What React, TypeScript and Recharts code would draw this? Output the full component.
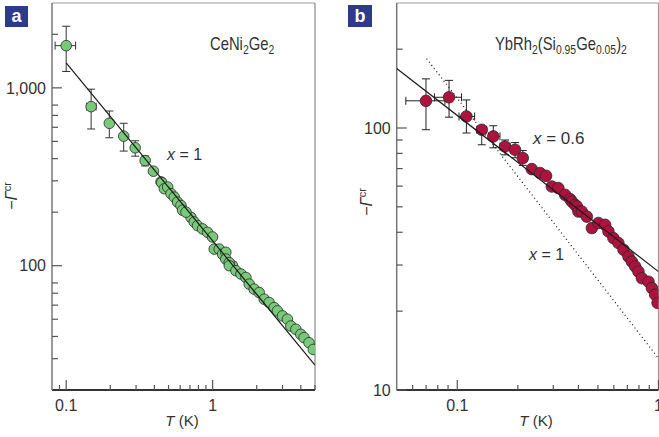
import React from 'react';
import { ScatterChart, Scatter, XAxis, YAxis, ErrorBar, ReferenceLine } from 'recharts';

// ---------- Panel a : CeNi2Ge2 ----------
const aErrT = [0.1, 0.148, 0.197, 0.247, 0.296, 0.346, 0.711, 1.367];
const aErrG = [1727, 784, 632, 535, 460, 390, 187, 100];
const aErrGLow = [1236, 587, 524, 441, 413, 364, 178, 95];
const aErrGHigh = [2220, 983, 741, 632, 504, 414, 196, 105];
const aErrTLow = [0.084, 0.138, 0.197, 0.247, 0.296, 0.336, 0.69, 1.33];
const aErrTHigh = [0.116, 0.16, 0.197, 0.247, 0.296, 0.356, 0.73, 1.40];

const aT = [0.394, 0.444, 0.449, 0.468, 0.493, 0.52, 0.547, 0.576, 0.608, 0.623, 0.658, 0.749, 0.789, 0.853, 0.923, 0.998, 1.025, 1.109, 1.169, 1.23, 1.23, 1.297, 1.3, 1.442, 1.56, 1.687, 1.778, 1.922, 2.08, 2.25, 2.43, 2.63, 2.77, 3.0, 3.24, 3.42, 3.7, 4.0, 4.21, 4.55, 4.87];
const aG = [340, 296, 293, 271, 277, 254, 243, 228, 218, 205, 200, 176, 168, 161, 154, 145, 124, 124, 116, 119, 109, 104, 100, 93.7, 89.8, 85.9, 78.8, 73.8, 70.6, 64.8, 62.1, 58.1, 55.7, 52.2, 50.0, 45.8, 43.9, 41.1, 39.4, 36.9, 33.8];

const aFitT = [0.1, 5];
const aFitG = [1380, 27.6];

const aXTicks = [0.09, 0.1, 0.2, 0.3, 0.4, 0.5, 0.6, 0.7, 0.8, 0.9, 1, 2, 3, 4, 5];
const aYTicks = [30, 40, 50, 60, 70, 80, 100, 200, 300, 400, 500, 600, 700, 800, 1000, 2000];
const aXDomain = [0.08, 5];
const aYDomain = [20, 3000];

// ---------- Panel b : YbRh2(Si0.95Ge0.05)2 ----------
const bErrT = [0.0699, 0.091, 0.111, 0.1323, 0.151, 0.1727, 0.1937, 0.2116];
const bErrG = [127, 131, 110.7, 98.5, 92.9, 85.0, 82.6, 76.8];
const bErrGLow = [98.5, 110, 95.7, 86.3, 84, 79, 77, 72];
const bErrGHigh = [154, 152, 128, 101.4, 102, 90, 88, 82];
const bErrTLow = [0.0555, 0.077, 0.102, 0.125, 0.143, 0.163, 0.185, 0.203];
const bErrTHigh = [0.0868, 0.105, 0.122, 0.14, 0.163, 0.183, 0.203, 0.222];

const bT = [0.2345, 0.2579, 0.2763, 0.295, 0.318, 0.3435, 0.3637, 0.371, 0.385, 0.393, 0.4, 0.416, 0.4403, 0.4664, 0.5029, 0.543, 0.564, 0.597, 0.632, 0.67, 0.709, 0.7375, 0.766, 0.795, 0.827, 0.892, 0.927, 0.963, 0.989];
const bG = [69.7, 67.3, 65.7, 59.8, 59.0, 55.6, 53.5, 52.4, 50.9, 50.2, 48.0, 48.0, 45.9, 41.5, 43.4, 42.7, 40.3, 38.0, 36.4, 34.3, 32.3, 30.9, 29.6, 28.3, 26.7, 25.9, 24.5, 23.1, 21.5];

const bFit06T = [0.05, 1];
const bFit06G = [168.8, 28.3];
const bFit1T = [0.0704, 1];
const bFit1G = [184, 13.2];

const bXTicks = [0.06, 0.07, 0.08, 0.09, 0.1, 0.2, 0.3, 0.4, 0.5, 0.6, 0.7, 0.8, 0.9, 1];
const bYTicks = [10, 20, 30, 40, 50, 60, 70, 80, 90, 100, 200];
const bXDomain = [0.05, 1];
const bYDomain = [10, 300];

// ---------- helpers ----------
const FONT = '"Liberation Sans", Arial, Helvetica, sans-serif';
const zip = (t: number[], g: number[]) => t.map((T, i) => ({ T, G: g[i] }));
const zipErr = (t: number[], g: number[], gl: number[], gh: number[], tl: number[], th: number[]) =>
  t.map((T, i) => ({
    T,
    G: g[i],
    ey: [g[i] - gl[i], gh[i] - g[i]],
    ex: [T - tl[i], th[i] - T],
  }));

const isDecade = (v: number) => Math.abs(Math.log10(v) - Math.round(Math.log10(v))) < 1e-6;
const fmt = (v: number) => (v >= 1000 ? v.toLocaleString('en-US') : String(v));

const YTick = (props: any) => {
  const { x, y, payload } = props;
  const v = payload.value;
  const major = isDecade(v);
  return (
    <g>
      <line x1={x} y1={y} x2={x + (major ? 10 : 6)} y2={y} stroke="#555" strokeWidth={1.2} />
      {major && (
        <text x={x - 6} y={y} dy="0.36em" textAnchor="end" fontSize={16} fontFamily={FONT} fill="#333">
          {fmt(v)}
        </text>
      )}
    </g>
  );
};

const XTick = (props: any) => {
  const { x, y, payload } = props;
  const v = payload.value;
  const major = isDecade(v);
  return (
    <g>
      <line x1={x} y1={y} x2={x} y2={y - (major ? 10 : 5)} stroke="#555" strokeWidth={1.2} />
      {major && (
        <text x={x} y={y + 21} textAnchor="middle" fontSize={16} fontFamily={FONT} fill="#333">
          {String(v)}
        </text>
      )}
    </g>
  );
};

const dot = (fill: string, r: number) => (props: any) =>
  props.cx == null ? <g /> : <circle cx={props.cx} cy={props.cy} r={r} fill={fill} stroke="#2a2a2a" strokeWidth={0.8} />;
const noDot = () => <g />;

const GREEN = '#79C97A';
const RED = '#B0123F';

export default function App() {
  const aErr = zipErr(aErrT, aErrG, aErrGLow, aErrGHigh, aErrTLow, aErrTHigh);
  const aPts = zip(aT, aG);
  const aFit = zip(aFitT, aFitG);
  const bErr = zipErr(bErrT, bErrG, bErrGLow, bErrGHigh, bErrTLow, bErrTHigh);
  const bPts = zip(bT, bG);
  const bFit06 = zip(bFit06T, bFit06G);
  const bFit1 = zip(bFit1T, bFit1G);

  return (
    <div style={{ position: 'absolute', left: 0, top: 0, width: 659, height: 437, overflow: 'hidden', background: '#fff' }}>
      <div style={{ position: 'absolute', left: 0, top: 0 }}>
        <ScatterChart width={320} height={437} margin={{ top: 3, right: 5, bottom: 0, left: 0 }}>
          <XAxis dataKey="T" type="number" scale="log" domain={aXDomain} allowDataOverflow ticks={aXTicks} interval={0}
            tickSize={0} tickMargin={0} tickLine={false} tick={XTick} height={47}
            axisLine={{ stroke: '#333', strokeWidth: 2 }} />
          <YAxis dataKey="G" type="number" scale="log" domain={aYDomain} allowDataOverflow ticks={aYTicks} interval={0}
            tickSize={0} tickMargin={0} tickLine={false} tick={YTick} width={52}
            axisLine={{ stroke: '#777', strokeWidth: 1.5 }} />
          <ReferenceLine y={3000} stroke="#999" strokeWidth={1.2} />
          <ReferenceLine x={5} stroke="#888" strokeWidth={1.2} />
          <Scatter data={aErr} shape={dot(GREEN, 5.3)} isAnimationActive={false}>
            <ErrorBar dataKey="ey" direction="y" width={4} stroke="#333" strokeWidth={1} />
            <ErrorBar dataKey="ex" direction="x" width={4} stroke="#333" strokeWidth={1} />
          </Scatter>
          <Scatter data={aPts} shape={dot(GREEN, 5.3)} isAnimationActive={false} />
          <Scatter data={aFit} shape={noDot} line={{ stroke: '#1a1a1a', strokeWidth: 1.2 }} isAnimationActive={false} />
        </ScatterChart>
      </div>
      <div style={{ position: 'absolute', left: 340, top: 0 }}>
        <ScatterChart width={330} height={437} margin={{ top: 3, right: 11.5, bottom: 0, left: 0 }}>
          <XAxis dataKey="T" type="number" scale="log" domain={bXDomain} allowDataOverflow ticks={bXTicks} interval={0}
            tickSize={0} tickMargin={0} tickLine={false} tick={XTick} height={47}
            axisLine={{ stroke: '#333', strokeWidth: 2 }} />
          <YAxis dataKey="G" type="number" scale="log" domain={bYDomain} allowDataOverflow ticks={bYTicks} interval={0}
            tickSize={0} tickMargin={0} tickLine={false} tick={YTick} width={56.7}
            axisLine={{ stroke: '#777', strokeWidth: 1.5 }} />
          <ReferenceLine y={300} stroke="#999" strokeWidth={1.2} />
          <ReferenceLine x={1} stroke="#999" strokeWidth={1.2} />
          <Scatter data={bFit1} shape={noDot} line={{ stroke: '#222', strokeWidth: 1.3, strokeDasharray: '1 3' }} isAnimationActive={false} />
          <Scatter data={bErr} shape={dot(RED, 5.8)} isAnimationActive={false}>
            <ErrorBar dataKey="ey" direction="y" width={4} stroke="#222" strokeWidth={1} />
            <ErrorBar dataKey="ex" direction="x" width={4} stroke="#222" strokeWidth={1} />
          </Scatter>
          <Scatter data={bPts} shape={dot(RED, 5.8)} isAnimationActive={false} />
          <Scatter data={bFit06} shape={noDot} line={{ stroke: '#1a1a1a', strokeWidth: 1.2 }} isAnimationActive={false} />
        </ScatterChart>
      </div>
      <svg width={659} height={437} style={{ position: 'absolute', left: 0, top: 0, pointerEvents: 'none' }}>
        {/* panel labels */}
        <rect x={5} y={6} width={23} height={21} fill="#2E3A8C" />
        <text x={16.5} y={22} textAnchor="middle" fontSize={18} fontWeight="bold" fill="#fff" fontFamily={FONT}>a</text>
        <rect x={348} y={5} width={24} height={22} fill="#2E3A8C" />
        <text x={360} y={22} textAnchor="middle" fontSize={18} fontWeight="bold" fill="#fff" fontFamily={FONT}>b</text>

        {/* compound names (condensed lettering) */}
        <g transform="translate(210,50) scale(0.8,1)">
          <text x={0} y={0} fontSize={18.5} fontFamily={FONT} fill="#333">
            CeNi<tspan fontSize={13} dy={4}>2</tspan><tspan dy={-4}>Ge</tspan><tspan fontSize={13} dy={4}>2</tspan>
          </text>
        </g>
        <g transform="translate(495,50) scale(0.8,1)">
          <text x={0} y={0} fontSize={18.5} fontFamily={FONT} fill="#333">
            YbRh<tspan fontSize={13} dy={4}>2</tspan><tspan dy={-4}>(Si</tspan><tspan fontSize={13} dy={4}>0.95</tspan><tspan dy={-4}>Ge</tspan><tspan fontSize={13} dy={4}>0.05</tspan><tspan dy={-4}>)</tspan><tspan fontSize={13} dy={4}>2</tspan>
          </text>
        </g>

        {/* exponent annotations */}
        <text x={167} y={160} fontSize={16} fontFamily={FONT} fill="#333">
          <tspan fontStyle="italic">x</tspan> = 1
        </text>
        <text x={533} y={144} fontSize={17} fontFamily={FONT} fill="#333">
          <tspan fontStyle="italic">x</tspan> = 0.6
        </text>
        <text x={529} y={260} fontSize={16} fontFamily={FONT} fill="#333">
          <tspan fontStyle="italic">x</tspan> = 1
        </text>

        {/* axis titles */}
        <text x={182} y={426} textAnchor="middle" fontSize={15} fontFamily={FONT} fill="#333">
          <tspan fontStyle="italic">T</tspan> (K)
        </text>
        <text x={536} y={426} textAnchor="middle" fontSize={15} fontFamily={FONT} fill="#333">
          <tspan fontStyle="italic">T</tspan> (K)
        </text>
        <text transform="translate(17,196) rotate(-90)" textAnchor="middle" fontSize={16} fontFamily={FONT} fill="#333">
          −<tspan fontStyle="italic">Γ</tspan><tspan fontSize={11} dy={-6}>cr</tspan>
        </text>
        <text transform="translate(372,202) rotate(-90)" textAnchor="middle" fontSize={16} fontFamily={FONT} fill="#333">
          −<tspan fontStyle="italic">Γ</tspan><tspan fontSize={11} dy={-6}>cr</tspan>
        </text>
      </svg>
    </div>
  );
}
